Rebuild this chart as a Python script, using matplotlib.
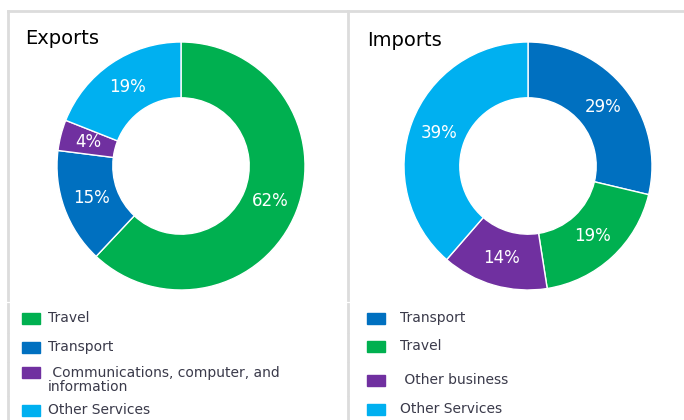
import matplotlib.pyplot as plt
from matplotlib.patches import Rectangle
from matplotlib.lines import Line2D

# data
exp_labels = ["Travel", "Transport", " Communications, computer, and\ninformation", "Other Services"]
exp_values = [62, 15, 4, 19]
exp_colors = ["#00b050", "#0070c0", "#7030a0", "#00b0f0"]

imp_labels = ["Transport", "Travel", " Other business", "Other Services"]
imp_values = [29, 19, 14, 39]
imp_colors = ["#0070c0", "#00b050", "#7030a0", "#00b0f0"]

W, H = 684, 420
fig = plt.figure(figsize=(W / 100, H / 100), dpi=100)
fig.patch.set_facecolor("white")

def px(x, y):
    # pixel (from top-left) to figure fraction
    return x / W, 1 - y / H

def donut(cx, cy, r, values, colors):
    ax = fig.add_axes([(cx - r) / W, (H - cy - r) / H, 2 * r / W, 2 * r / H])
    ax.pie(values, colors=colors, startangle=90, counterclock=False,
           autopct="%.0f%%", pctdistance=0.77,
           wedgeprops=dict(width=0.45, edgecolor="white", linewidth=1),
           textprops=dict(color="white", fontsize=12))
    ax.set_xlim(-1, 1)
    ax.set_ylim(-1, 1)
    ax.set_aspect("equal")
    ax.axis("off")

donut(181, 166, 124, exp_values, exp_colors)
donut(528, 166, 124, imp_values, imp_colors)

# panel borders
gray = "#dcdcdc"
fig.add_artist(Line2D([8 / W, 1], [1 - 11 / H] * 2, color=gray, lw=2, transform=fig.transFigure))
fig.add_artist(Line2D([8 / W] * 2, [1 - 11 / H, 1 - 300 / H], color=gray, lw=2, transform=fig.transFigure))
fig.add_artist(Line2D([348 / W] * 2, [1 - 11 / H, 1 - 300 / H], color=gray, lw=2, transform=fig.transFigure))
for y0, y1 in [(304, 332), (334, 361), (363, 395), (397, 420)]:
    for x in (8, 348):
        fig.add_artist(Line2D([x / W] * 2, [1 - y0 / H, 1 - y1 / H], color=gray, lw=2,
                              transform=fig.transFigure))

# titles
fig.text(*px(25, 38), "Exports", fontsize=14, va="center", ha="left", color="black")
fig.text(*px(367, 40), "Imports", fontsize=14, va="center", ha="left", color="black")

# legends
def legend(x_box, x_text, ys, labels, colors):
    for y, lab, c in zip(ys, labels, colors):
        fig.add_artist(Rectangle(px(x_box, y + 5.5), 18 / W, 11 / H, color=c,
                                 transform=fig.transFigure))
        n = lab.count("\n")
        fig.text(*px(x_text, y + n * 8), lab, fontsize=10, color="#3a3a4a",
                 va="center", ha="left", linespacing=1.0)

legend(22, 48, [318, 347, 372, 410], exp_labels, exp_colors)
legend(367, 400, [318, 346, 380, 409], imp_labels, imp_colors)

fig.savefig("out.png", dpi=100, facecolor="white")
